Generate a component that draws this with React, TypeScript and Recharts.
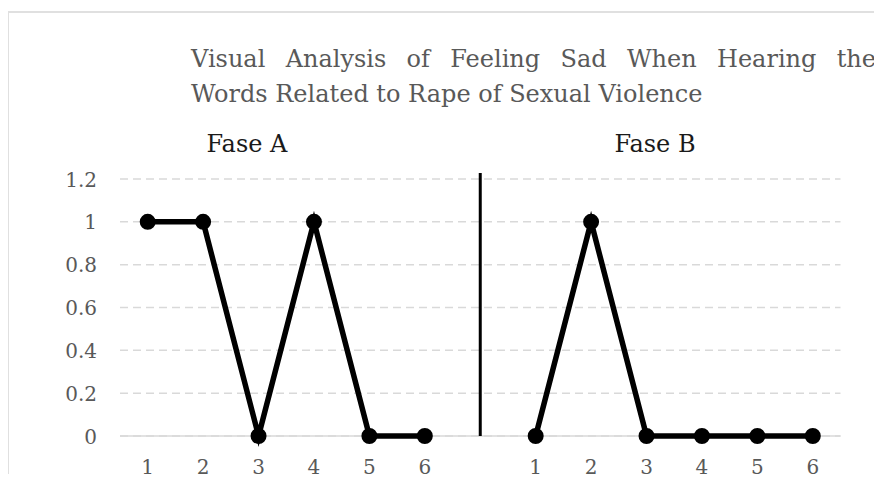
import { LineChart, Line, XAxis, YAxis, CartesianGrid, ReferenceLine } from "recharts";

const sessionLabels = ["1", "2", "3", "4", "5", "6"];
const phaseAValues = [1, 1, 0, 1, 0, 0];
const phaseBValues = [0, 1, 0, 0, 0, 0];
const yTicks = [0, 0.2, 0.4, 0.6, 0.8, 1, 1.2];

const titleLine1 = "Visual Analysis of Feeling Sad When Hearing the";
const titleLine2 = "Words Related to Rape of Sexual Violence";

const FONT = "'DejaVu Serif', 'Liberation Serif', serif";
const GREY = "#595959";

type Row = { slot: string; label: string; a: number | null; b: number | null };

// phase A, an empty slot for the divider, then phase B
const data: Row[] = [
	...sessionLabels.map((label, i) => ({ slot: `A${label}`, label, a: phaseAValues[i], b: null })),
	{ slot: "gap", label: "", a: null, b: null },
	...sessionLabels.map((label, i) => ({ slot: `B${label}`, label, a: null, b: phaseBValues[i] })),
];

function XTick({ x, y, index }: { x?: number; y?: number; index?: number }) {
	const label = data[index ?? 0]?.label ?? "";
	if (!label) return null;
	return (
		<text x={x} y={y} dy={38} textAnchor="middle" fill={GREY} fontSize={20} fontFamily={FONT}>
			{label}
		</text>
	);
}

function YTick({ x, y, payload }: { x?: number; y?: number; payload?: { value: number } }) {
	return (
		<text x={x} y={y} dy={7.5} textAnchor="end" fill={GREY} fontSize={20} fontFamily={FONT}>
			{String(payload?.value ?? "")}
		</text>
	);
}

const dotStyle = { r: 7, fill: "#000", stroke: "#000", strokeWidth: 2 };

export default function App() {
	return (
		<div
			style={{
				position: "relative",
				width: 882,
				height: 482,
				margin: -8,
				overflow: "hidden",
				background: "#fff",
			}}
		>
			<div
				style={{
					position: "absolute",
					left: 7,
					top: 11,
					width: 900,
					height: 500,
					border: "2px solid #e0e0e0",
				}}
			/>

			<div
				style={{
					position: "absolute",
					left: 191,
					top: 45,
					width: 685,
					fontFamily: FONT,
					fontSize: 24,
					lineHeight: "28px",
					color: GREY,
					textAlign: "justify",
					textAlignLast: "justify",
					whiteSpace: "nowrap",
				}}
			>
				{titleLine1}
			</div>
			<div
				style={{
					position: "absolute",
					left: 191,
					top: 80,
					fontFamily: FONT,
					fontSize: 24,
					lineHeight: "28px",
					color: GREY,
					whiteSpace: "nowrap",
				}}
			>
				{titleLine2}
			</div>

			<div style={{ position: "absolute", left: 0, top: 0 }}>
				<LineChart
					width={882}
					height={482}
					data={data}
					margin={{ top: 179, right: 41.5, left: 0, bottom: 16 }}
				>
					<CartesianGrid
						vertical={false}
						stroke="#d9d9d9"
						strokeWidth={1.5}
						strokeDasharray="8 5"
					/>
					{/* solid zero line, kept under the series */}
					<CartesianGrid
						vertical={false}
						horizontalValues={[0]}
						stroke="#d9d9d9"
						strokeWidth={1.5}
					/>
					<XAxis
						dataKey="slot"
						type="category"
						interval={0}
						height={30}
						padding={{ left: 27.7, right: 27.7 }}
						tickSize={0}
						tickMargin={0}
						axisLine={false}
						tickLine={false}
						tick={<XTick />}
					/>
					<YAxis
						width={120}
						domain={[0, 1.2]}
						ticks={yTicks}
						tickSize={0}
						tickMargin={23}
						axisLine={false}
						tickLine={false}
						tick={<YTick />}
					/>
					<ReferenceLine
						segment={[
							{ x: "gap", y: 0 },
							{ x: "gap", y: 1.228 },
						]}
						ifOverflow="visible"
						stroke="#000"
						strokeWidth={3}
					/>
					<Line
						dataKey="a"
						stroke="#000"
						strokeWidth={5.5}
						dot={dotStyle}
						activeDot={false}
						isAnimationActive={false}
					/>
					<Line
						dataKey="b"
						stroke="#000"
						strokeWidth={5.5}
						dot={dotStyle}
						activeDot={false}
						isAnimationActive={false}
					/>
				</LineChart>
			</div>

			<div
				style={{
					position: "absolute",
					left: 187,
					top: 130,
					width: 120,
					textAlign: "center",
					fontFamily: FONT,
					fontSize: 24,
					lineHeight: "28px",
					color: "#1a1a1a",
				}}
			>
				Fase A
			</div>
			<div
				style={{
					position: "absolute",
					left: 595,
					top: 130,
					width: 120,
					textAlign: "center",
					fontFamily: FONT,
					fontSize: 24,
					lineHeight: "28px",
					color: "#1a1a1a",
				}}
			>
				Fase B
			</div>
		</div>
	);
}
